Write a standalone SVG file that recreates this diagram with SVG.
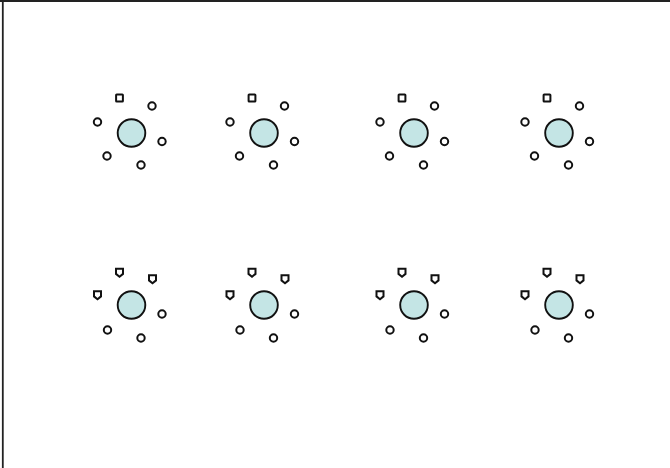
<svg xmlns="http://www.w3.org/2000/svg" width="670" height="468" viewBox="0 0 670 468">
<style>
.hub{fill:#c4e5e5;stroke:#111;stroke-width:1.9}
.sat{fill:#fff;stroke:#111;stroke-width:2}
.frame{stroke:#222;fill:none}
</style>
<defs>
<circle id="o" class="sat" r="3.7"/>
<rect id="s" class="sat" x="-3.4" y="-3.5" width="6.8" height="7" rx="0.6"/>
<path id="d" class="sat" d="M-3.5,-3.8 L3.5,-3.8 L3.5,1.4 L0,4.2 L-3.5,1.4 Z"/>
<g id="clusterTop">
<circle class="hub" r="13.8"/>
<use href="#s" x="-12" y="-35"/>
<use href="#o" x="20.5" y="-27"/>
<use href="#o" x="-34" y="-11"/>
<use href="#o" x="30.5" y="8.5"/>
<use href="#o" x="-24.5" y="23"/>
<use href="#o" x="9.5" y="32"/>
</g>
<g id="clusterBot">
<circle class="hub" r="13.8"/>
<use href="#d" x="-12" y="-32.5"/>
<use href="#d" x="21" y="-26"/>
<use href="#d" x="-34" y="-10"/>
<use href="#o" x="30.5" y="9"/>
<use href="#o" x="-24" y="25"/>
<use href="#o" x="9.5" y="33"/>
</g>
</defs>
<rect width="670" height="468" fill="#fff"/>
<line class="frame" x1="0" y1="1" x2="670" y2="1" stroke-width="2"/>
<line class="frame" x1="2.8" y1="0" x2="2.8" y2="468" stroke-width="1.8" stroke="#000"/>
<g id="c1"><use href="#clusterTop" x="131.5" y="133"/></g>
<g id="c2"><use href="#clusterTop" x="264" y="133"/></g>
<g id="c3"><use href="#clusterTop" x="414" y="133"/></g>
<g id="c4"><use href="#clusterTop" x="559" y="133"/></g>
<g id="c5"><use href="#clusterBot" x="131.5" y="305"/></g>
<g id="c6"><use href="#clusterBot" x="264" y="305"/></g>
<g id="c7"><use href="#clusterBot" x="414" y="305"/></g>
<g id="c8"><use href="#clusterBot" x="559" y="305"/></g>
<g id="connectors"/>
</svg>
